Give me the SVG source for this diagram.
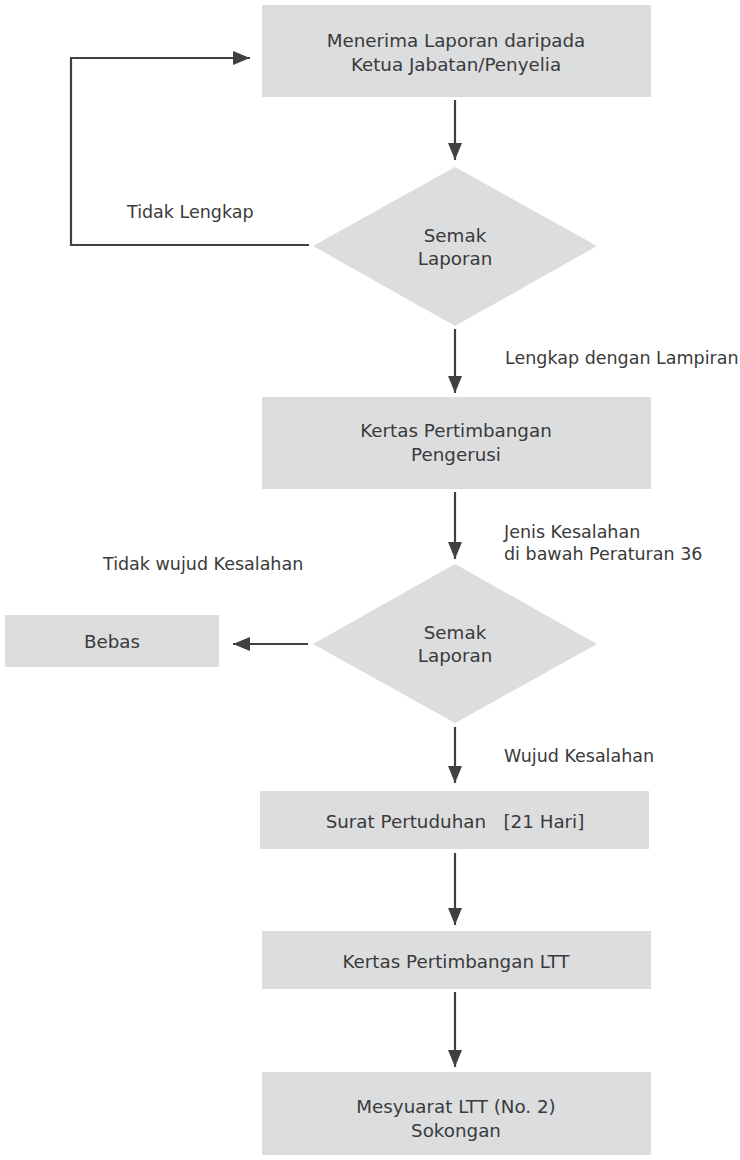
<svg xmlns="http://www.w3.org/2000/svg" width="740" height="1160" viewBox="0 0 740 1160">
  <style>
    .box { fill: #dcdddf; }
    .txt { font-family: "DejaVu Sans", "Liberation Sans", sans-serif; font-size: 17.5px; fill: #3a3a3a; }
    .mid { text-anchor: middle; font-size: 18.3px; }
    .wire { fill: none; stroke: #404040; stroke-width: 2.2; }
  </style>
  <defs>
    <marker id="head" markerUnits="userSpaceOnUse" markerWidth="18" markerHeight="14" refX="17" refY="7" orient="auto">
      <path d="M0,0 L17,7 L0,14 z" fill="#404040"/>
    </marker>
  </defs>

  <rect width="740" height="1160" fill="#ffffff"/>

  <!-- connectors -->
  <g id="connectors">
    <path class="wire" d="M455,100 V160" marker-end="url(#head)"/>
    <path class="wire" d="M309,245 H71 V58 H250" marker-end="url(#head)"/>
    <path class="wire" d="M455,329 V393" marker-end="url(#head)"/>
    <path class="wire" d="M455,492 V559" marker-end="url(#head)"/>
    <path class="wire" d="M308,644 H233" marker-end="url(#head)"/>
    <path class="wire" d="M455,727 V783" marker-end="url(#head)"/>
    <path class="wire" d="M455,853 V925" marker-end="url(#head)"/>
    <path class="wire" d="M455,992 V1067" marker-end="url(#head)"/>
  </g>

  <!-- connector labels -->
  <g id="labels">
    <text class="txt" x="127" y="218">Tidak Lengkap</text>
    <text class="txt" x="505" y="364">Lengkap dengan Lampiran</text>
    <text class="txt" x="504" y="538">Jenis Kesalahan</text>
    <text class="txt" x="504" y="560">di bawah Peraturan 36</text>
    <text class="txt" x="103" y="570">Tidak wujud Kesalahan</text>
    <text class="txt" x="504" y="762">Wujud Kesalahan</text>
  </g>

  <g id="terima">
    <rect class="box" x="262" y="5" width="389" height="92"/>
    <text class="txt mid" x="456" y="47">Menerima Laporan daripada</text>
    <text class="txt mid" x="456" y="71">Ketua Jabatan/Penyelia</text>
  </g>

  <g id="semak1">
    <polygon class="box" points="455,167 597,246 455,326 313,246"/>
    <text class="txt mid" x="455" y="242">Semak</text>
    <text class="txt mid" x="455" y="265">Laporan</text>
  </g>

  <g id="pengerusi">
    <rect class="box" x="262" y="397" width="389" height="92"/>
    <text class="txt mid" x="456" y="437">Kertas Pertimbangan</text>
    <text class="txt mid" x="456" y="461">Pengerusi</text>
  </g>

  <g id="semak2">
    <polygon class="box" points="455,564 597,644 455,723 313,644"/>
    <text class="txt mid" x="455" y="639">Semak</text>
    <text class="txt mid" x="455" y="662">Laporan</text>
  </g>

  <g id="bebas">
    <rect class="box" x="5" y="615" width="214" height="52"/>
    <text class="txt mid" x="112" y="648">Bebas</text>
  </g>

  <g id="pertuduhan">
    <rect class="box" x="260" y="791" width="389" height="58"/>
    <text class="txt mid" x="455" y="828" xml:space="preserve">Surat Pertuduhan   [21 Hari]</text>
  </g>

  <g id="ltt">
    <rect class="box" x="262" y="931" width="389" height="58"/>
    <text class="txt mid" x="456" y="968">Kertas Pertimbangan LTT</text>
  </g>

  <g id="mesyuarat">
    <rect class="box" x="262" y="1072" width="389" height="83"/>
    <text class="txt mid" x="456" y="1113">Mesyuarat LTT (No. 2)</text>
    <text class="txt mid" x="456" y="1137">Sokongan</text>
  </g>
</svg>
